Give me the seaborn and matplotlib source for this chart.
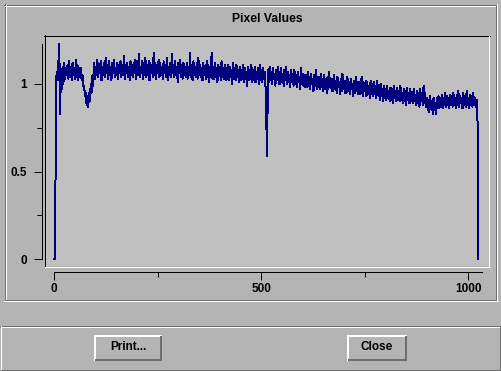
import numpy as np
import matplotlib
matplotlib.use("Agg")
import matplotlib.pyplot as plt
import seaborn as sns
from matplotlib.lines import Line2D
from matplotlib.patches import Rectangle

plt.rcParams['font.family'] = ['Liberation Sans', 'DejaVu Sans']

# ---------------- data (every 2nd pixel index) ----------------
pixel_values = [
    0.00, 0.00, 1.00, 1.07, 1.02, 1.12, 1.23, 0.83, 1.08, 0.97, 1.10, 1.00, 1.12, 1.03, 1.09, 1.05,
    1.11, 1.03, 1.13, 1.04, 1.10, 1.02, 1.12, 1.05, 1.09, 1.03, 1.14, 1.04, 1.11, 1.02, 1.09, 1.04,
    1.09, 1.02, 1.05, 0.99, 0.99, 0.93, 0.95, 0.88, 0.93, 0.87, 0.95, 0.90, 1.00, 0.95, 1.05, 0.99,
    1.12, 1.03, 1.10, 1.05, 1.14, 1.04, 1.11, 1.06, 1.13, 1.02, 1.10, 1.05, 1.12, 1.04, 1.15, 1.06,
    1.11, 1.03, 1.13, 1.05, 1.10, 1.02, 1.12, 1.06, 1.14, 1.04, 1.09, 1.05, 1.12, 1.03, 1.11, 1.06,
    1.13, 1.04, 1.10, 1.05, 1.16, 1.03, 1.11, 1.06, 1.12, 1.04, 1.10, 1.02, 1.13, 1.05, 1.11, 1.04,
    1.12, 1.06, 1.14, 1.03, 1.11, 1.05, 1.17, 1.04, 1.10, 1.06, 1.13, 1.03, 1.12, 1.05, 1.15, 1.04,
    1.11, 1.05, 1.13, 1.02, 1.12, 1.06, 1.10, 1.04, 1.18, 1.05, 1.12, 1.03, 1.11, 1.06, 1.14, 1.04,
    1.12, 1.05, 1.10, 1.03, 1.13, 1.06, 1.11, 1.04, 1.15, 1.02, 1.10, 1.05, 1.12, 1.04, 1.17, 1.06,
    1.11, 1.04, 1.13, 1.05, 1.10, 1.01, 1.12, 1.06, 1.14, 1.04, 1.11, 1.03, 1.12, 1.05, 1.10, 1.04,
    1.12, 1.03, 1.10, 1.05, 1.18, 1.04, 1.11, 1.02, 1.13, 1.05, 1.10, 1.04, 1.12, 1.03, 1.15, 1.05,
    1.11, 1.04, 1.09, 1.02, 1.12, 1.05, 1.10, 1.03, 1.13, 1.04, 1.11, 1.01, 1.10, 1.04, 1.18, 1.03,
    1.10, 1.03, 1.12, 1.04, 1.09, 1.01, 1.11, 1.05, 1.10, 1.02, 1.13, 1.04, 1.09, 1.03, 1.11, 1.02,
    1.09, 1.03, 1.11, 1.02, 1.10, 1.04, 1.08, 1.00, 1.12, 1.03, 1.09, 1.02, 1.11, 1.04, 1.08, 1.01,
    1.10, 1.02, 1.08, 1.03, 1.11, 1.01, 1.09, 1.03, 1.07, 0.99, 1.10, 1.02, 1.08, 1.03, 1.11, 1.01,
    1.08, 1.02, 1.10, 1.01, 1.07, 1.03, 1.09, 1.00, 1.11, 1.02, 1.08, 1.01, 1.09, 1.03, 1.07, 1.00,
    0.79, 0.59, 1.08, 1.01, 1.10, 1.02, 1.07, 1.00, 1.09, 1.03, 1.06, 0.99, 1.08, 1.02, 1.10, 1.00,
    1.07, 1.00, 1.09, 1.01, 1.06, 0.99, 1.08, 1.02, 1.10, 1.00, 1.07, 1.01, 1.05, 0.98, 1.08, 1.01,
    1.06, 0.99, 1.08, 1.00, 1.05, 0.98, 1.07, 1.01, 1.04, 0.97, 1.09, 1.00, 1.06, 0.99, 1.05, 0.98,
    1.05, 0.98, 1.07, 0.99, 1.04, 0.97, 1.06, 1.00, 1.03, 0.96, 1.05, 0.99, 1.08, 0.97, 1.04, 0.98,
    1.04, 0.97, 1.06, 0.98, 1.03, 0.96, 1.05, 0.99, 1.02, 0.95, 1.04, 0.97, 1.07, 0.98, 1.03, 0.96,
    1.03, 0.96, 1.05, 0.97, 1.02, 0.95, 1.04, 0.98, 1.01, 0.94, 1.03, 0.96, 1.06, 0.97, 1.02, 0.95,
    1.02, 0.95, 1.04, 0.96, 1.01, 0.94, 1.03, 0.97, 1.00, 0.93, 1.02, 0.95, 1.04, 0.96, 1.01, 0.94,
    1.01, 0.94, 1.03, 0.95, 1.04, 0.93, 1.00, 0.96, 1.02, 0.93, 1.01, 0.95, 0.99, 0.92, 1.02, 0.94,
    1.00, 0.93, 1.01, 0.94, 0.99, 0.92, 1.02, 0.95, 0.98, 0.91, 1.00, 0.93, 0.97, 0.90, 0.99, 0.92,
    0.97, 0.91, 0.99, 0.92, 0.96, 0.90, 0.98, 0.91, 0.97, 0.89, 0.99, 0.92, 0.96, 0.90, 0.98, 0.91,
    0.96, 0.90, 0.99, 0.91, 0.95, 0.89, 0.97, 0.90, 0.96, 0.88, 0.98, 0.91, 0.95, 0.89, 0.97, 0.90,
    0.95, 0.89, 0.97, 0.90, 0.94, 0.88, 0.96, 0.89, 0.95, 0.87, 0.97, 0.90, 0.94, 0.88, 0.99, 0.89,
    0.95, 0.87, 0.92, 0.85, 0.91, 0.84, 0.93, 0.86, 0.90, 0.83, 0.92, 0.85, 0.89, 0.83, 0.92, 0.86,
    0.93, 0.86, 0.92, 0.87, 0.94, 0.86, 0.92, 0.88, 0.95, 0.87, 0.93, 0.88, 0.92, 0.86, 0.94, 0.88,
    0.93, 0.87, 0.95, 0.88, 0.92, 0.86, 0.94, 0.88, 0.96, 0.87, 0.93, 0.89, 0.92, 0.86, 0.95, 0.88,
    0.93, 0.87, 0.96, 0.88, 0.92, 0.86, 0.94, 0.88, 0.93, 0.87, 0.95, 0.88, 0.92, 0.87, 0.91, 0.89,
    0.00,
]
pixel_index = np.arange(len(pixel_values)) * 2

x_major_ticks = [0, 500, 1000]
x_major_labels = ['0', '500', '1000']
x_minor_ticks = [250, 750]
y_major_ticks = [0, 0.5, 1]
y_major_labels = ['0', '0.5', '1']
y_minor_ticks = [0.25, 0.75]

title_text = 'Pixel Values'
button_labels = ['Print...', 'Close']

# ---------------- figure ----------------
W, H = 502, 371
BG = '#b4b4b4'
PLOTBG = '#c0c0c0'
DARK = '#6e6e6e'
LINE = '#000080'
PT = 0.72  # points per pixel at 100 dpi

fig = plt.figure(figsize=(W / 100, H / 100), dpi=100, facecolor=BG)


def fx(px):
    return px / W


def fy(py):
    return 1 - py / H


def seg(x0, y0, x1, y1, color, lw=1):
    fig.add_artist(Line2D([fx(x0), fx(x1)], [fy(y0), fy(y1)], transform=fig.transFigure,
                          color=color, linewidth=lw * PT, antialiased=False,
                          solid_capstyle='butt', zorder=5))


# etched outer frame
seg(4, 4.5, 497, 4.5, DARK)
seg(4.5, 4, 4.5, 300, DARK)
seg(5, 5.5, 497, 5.5, 'white')
seg(5.5, 5, 5.5, 300, 'white')
seg(5, 299.5, 497, 299.5, DARK)
seg(496.5, 5, 496.5, 300, DARK)
seg(4, 300.5, 498, 300.5, 'white')
seg(497.5, 4, 497.5, 301, 'white')

# bottom button panel
seg(0, 325.5, 502, 325.5, DARK)
seg(1, 326.5, 501, 326.5, 'white')
seg(1.5, 326, 1.5, 370, 'white')
seg(500.5, 326, 500.5, 370, DARK)
seg(1, 369.5, 501, 369.5, DARK)

# title
fig.text(fx(267), fy(19.5), title_text, ha='center', va='center',
         fontsize=8.7, fontweight='bold', color='black')

# plot area
L, T, R, B = 45, 36, 489, 266
ax = fig.add_axes([fx(L), fy(B), (R - L) / W, (B - T) / H])
ax.set_facecolor(PLOTBG)

sns.lineplot(x=pixel_index, y=pixel_values, ax=ax, color=LINE, linewidth=1.0 * PT,
             errorbar=None, antialiased=False)

x0px, xscale = 54.3, 0.414
y0px, yscale = 259.3, 175.3
ax.set_xlim((L - x0px) / xscale, (R - x0px) / xscale)
ax.set_ylim((y0px - B) / yscale, (y0px - T) / yscale)

for s in ['top', 'right']:
    ax.spines[s].set_visible(False)
ax.spines['left'].set_position(('outward', 3 * PT))
ax.spines['bottom'].set_position(('outward', 6 * PT))
ax.spines['left'].set_bounds(0, 1.226)
ax.spines['bottom'].set_bounds(0, 1032)
for s in ['left', 'bottom']:
    ax.spines[s].set_linewidth(PT)
    ax.spines[s].set_color('black')

ax.set_xticks(x_major_ticks)
ax.set_xticklabels(x_major_labels, fontsize=8.5, fontweight='bold')
ax.set_xticks(x_minor_ticks, minor=True)
ax.set_yticks(y_major_ticks)
ax.set_yticklabels(y_major_labels, fontsize=8.5, fontweight='bold')
ax.set_yticks(y_minor_ticks, minor=True)
ax.tick_params(axis='both', which='major', direction='out', length=8 * PT, width=PT, color='black')
ax.tick_params(axis='both', which='minor', direction='out', length=5 * PT, width=PT, color='black')
ax.tick_params(axis='y', which='major', pad=5)
ax.tick_params(axis='x', which='major', pad=2)
ax.set_xlabel('')
ax.set_ylabel('')
ax.grid(False)

# sunken frame of plot area
seg(44, 35.5, 490, 35.5, 'black')
seg(44.5, 35, 44.5, 267, 'black')
seg(45, 266.5, 490, 266.5, 'white')
seg(489.5, 36, 489.5, 267, 'white')


def button(x0, y0, x1, y1, text):
    fig.add_artist(Rectangle((fx(x0), fy(y1)), (x1 - x0) / W, (y1 - y0) / H,
                             transform=fig.transFigure, facecolor=BG, edgecolor='none', zorder=4))
    seg(x0, y0 + 1, x1, y0 + 1, 'white', 2)
    seg(x0 + 1, y0, x0 + 1, y1, 'white', 2)
    seg(x0 + 1, y1 - 1, x1, y1 - 1, DARK, 2)
    seg(x1 - 1, y0 + 1, x1 - 1, y1, DARK, 2)
    fig.text(fx((x0 + x1) / 2), fy((y0 + y1) / 2 - 0.5), text, ha='center', va='center',
             fontsize=8.5, fontweight='bold', color='black', zorder=6)


button(94, 335, 162, 361, button_labels[0])
button(347, 335, 407, 361, button_labels[1])

fig.savefig('out.png', dpi=100, facecolor=BG)
